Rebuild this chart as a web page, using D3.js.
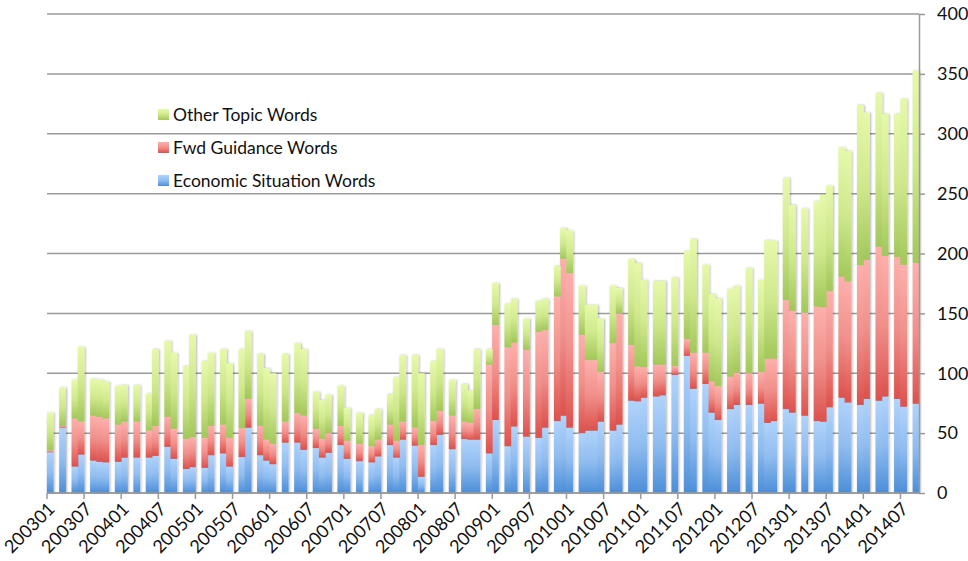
<!DOCTYPE html>
<html>
<head>
<meta charset="utf-8">
<script src="https://cdn.jsdelivr.net/npm/d3@7/dist/d3.min.js"></script>
<style>
  body { margin: 0; background: #fff; }
  text { font-family: Lato, "Open Sans", sans-serif; fill: #111; }
</style>
</head>
<body>
<svg width="968" height="561"></svg>
<script>
// FOMC statement word counts by meeting month
var months = ["200301","200303","200305","200306","200308","200309","200310","200312",
  "200401","200403","200405","200406","200408","200409","200411","200412",
  "200502","200503","200505","200506","200508","200509","200511","200512",
  "200601","200603","200605","200606","200608","200609","200610","200612",
  "200701","200703","200705","200706","200708","200709","200710","200712",
  "200801","200803","200804","200806","200808","200809","200810","200812",
  "200901","200903","200904","200906","200908","200909","200911","200912",
  "201001","201003","201004","201005","201006","201008","201009","201011","201012",
  "201101","201103","201104","201106","201108","201109","201111","201112",
  "201201","201203","201204","201206","201208","201209","201210","201212",
  "201301","201303","201305","201306","201307","201309","201310","201312",
  "201401","201403","201404","201406","201407","201409"];

var econ = [34,54.5,22,32,27,26,25.5,26,
  29.5,29.5,29.5,31,38.5,28.5,20,21.5,
  21,31.5,33,22,30,54.5,31.5,27,
  24,42,42,36,37.5,29.5,33.5,40,
  28.5,26.5,25.5,30.5,40,29.5,44.5,39.5,
  13.5,40,48.5,36.5,45,44.5,44.5,33,
  61,39,55.5,47,46,54.5,60,64.5,
  54.5,50,52,52,59.5,52,57,77,76.5,
  79.5,80.5,81.5,98.5,114.5,87,91,67,
  61,70,73.5,73.5,74.5,58.5,60,70,
  67,64.5,60,59.5,71.5,79.5,75.5,73.5,
  78.5,77,80.5,78.5,72,74.5];

var fwd = [1.5,1.5,40,27.5,37.5,37.5,36.5,31,
  30,30,22.5,25,25,25,25,25,
  25,24.5,24,24,24,24,24.5,17.5,
  17,17.5,24.5,28.5,16,15.5,16.5,16,
  15,14.5,13.5,14,17,14,15,15,
  26.5,20,20,28,14.5,14,25.5,74,
  79,82.5,70,72.5,88.5,81.5,104,131,
  129,82,59,59,41.5,73,93,46.5,29,
  25.5,26.5,25.5,7.5,14,30,26,26,
  28,27,27,26.5,26.5,53.5,52,91,
  85,86,95.5,95.5,97,101,101,116.5,
  116,128.5,117.5,118.5,118.5,117.5];

var other = [31.5,32,32.5,62.5,30.5,31,31,32.5,
  30.5,30.5,31,64,63.5,63.5,61,85.5,
  64,61,63,62,66,56.5,60,59.5,
  59,56.5,58.5,55.5,31,32.5,32,33.5,
  27.5,26,26,25.5,25.5,53,55.5,60.5,
  60,50,51.5,30,31.5,27,50,13,
  35,36.5,36.5,26,26,26,25.5,25.5,
  35.5,41,46,46,44.5,48,21,71.5,86.5,
  73,70,70,74,73.5,95,73.5,73,
  73.5,73.5,72.5,88,77,99,98.5,102,
  88.5,87,88,94,88,108,109,134,
  123,128.5,118.5,119.5,138.5,160.5];

var seriesNames = ["Economic Situation Words", "Fwd Guidance Words", "Other Topic Words"];
var yTicks = [0, 50, 100, 150, 200, 250, 300, 350, 400];
var tickLabels = ["200301","200307","200401","200407","200501","200507","200601","200607",
  "200701","200707","200801","200807","200901","200907","201001","201007",
  "201101","201107","201201","201207","201301","201307","201401","201407"];

var svg = d3.select("svg");
var plotLeft = 47, plotRight = 919, plotTop = 14, plotBottom = 493;

// every month on the date axis, Jan 2003 .. Sep 2014
var fmt = d3.timeFormat("%Y%m");
var allMonths = d3.timeMonth.range(new Date(2003, 0, 1), new Date(2014, 9, 1)).map(fmt);

var x = d3.scaleBand().domain(allMonths).range([plotLeft, plotRight]).padding(0);
var y = d3.scaleLinear().domain([0, 400]).range([plotBottom, plotTop]);

// gradients
var defs = svg.append("defs");
var grads = [
  {id: "gBlue", c: ["#b0d3fb", "#8fbcef", "#4b8ed8"]},
  {id: "gRed", c: ["#fdb0ac", "#f08f8a", "#dc514c"]},
  {id: "gGreen", c: ["#e6f9ab", "#cfe88c", "#a2c75a"]}
];
grads.forEach(function(g) {
  var lg = defs.append("linearGradient").attr("id", g.id)
    .attr("x1", 0).attr("y1", 0).attr("x2", 0).attr("y2", 1);
  lg.append("stop").attr("offset", "0%").attr("stop-color", g.c[0]);
  lg.append("stop").attr("offset", "50%").attr("stop-color", g.c[1]);
  lg.append("stop").attr("offset", "100%").attr("stop-color", g.c[2]);
});
var f = defs.append("filter").attr("id", "shadow")
  .attr("x", "-5%").attr("y", "-5%").attr("width", "110%").attr("height", "110%");
f.append("feDropShadow").attr("dx", 1).attr("dy", 0).attr("stdDeviation", 1.2)
  .attr("flood-color", "#000").attr("flood-opacity", 0.3);

// grid
svg.append("g").selectAll("line").data(yTicks).enter().append("line")
  .attr("x1", plotLeft).attr("x2", plotRight)
  .attr("y1", function(d) { return y(d); }).attr("y2", function(d) { return y(d); })
  .attr("stroke", "#9a9a9a").attr("stroke-width", 1.5);

// stacked bars
var rows = months.map(function(m, i) {
  return {month: m, econ: econ[i], fwd: fwd[i], other: other[i]};
});
var stack = d3.stack().keys(["econ", "fwd", "other"]);
var layers = stack(rows);
var fills = ["url(#gBlue)", "url(#gRed)", "url(#gGreen)"];

var bars = svg.append("g").attr("filter", "url(#shadow)");
layers.forEach(function(layer, k) {
  bars.append("g").selectAll("rect").data(layer).enter().append("rect")
    .attr("x", function(d) { return x(d.data.month) - 0.2; })
    .attr("width", x.bandwidth() + 0.6)
    .attr("y", function(d) { return y(d[1]); })
    .attr("height", function(d) { return y(d[0]) - y(d[1]); })
    .attr("fill", fills[k]);
});

// x axis
var xAxis = svg.append("g").attr("transform", "translate(0," + plotBottom + ")")
  .call(d3.axisBottom(x).tickValues(tickLabels).tickSize(6).tickSizeOuter(0));
xAxis.select(".domain").attr("stroke", "#9a9a9a").attr("stroke-width", 1.5)
  .attr("d", "M" + plotLeft + ",0H" + plotRight);
xAxis.selectAll(".tick").attr("transform", function(d) { return "translate(" + x(d) + ",0)"; });
xAxis.selectAll(".tick line").attr("stroke", "#9a9a9a").attr("stroke-width", 1.5);
xAxis.selectAll(".tick text")
  .attr("font-size", 18).attr("fill", "#111")
  .attr("text-anchor", "end")
  .attr("x", 0).attr("y", 0).attr("dy", 0)
  .attr("transform", "translate(9,17) rotate(-45)");

// right y axis
var yAxis = svg.append("g").attr("transform", "translate(" + plotRight + ",0)")
  .call(d3.axisRight(y).tickValues(yTicks).tickSize(6).tickPadding(12).tickSizeOuter(0));
yAxis.select(".domain").attr("stroke", "#9a9a9a").attr("stroke-width", 1.5);
yAxis.selectAll(".tick line").attr("stroke", "#9a9a9a").attr("stroke-width", 1.5);
yAxis.selectAll(".tick text").attr("font-size", 18).attr("fill", "#111");

// legend
var legend = svg.append("g").attr("transform", "translate(158,109)");
var legendItems = [seriesNames[2], seriesNames[1], seriesNames[0]];
var legendFills = [fills[2], fills[1], fills[0]];
legendItems.forEach(function(name, i) {
  var row = legend.append("g").attr("transform", "translate(0," + (i * 33) + ")");
  row.append("rect").attr("width", 11).attr("height", 11).attr("fill", legendFills[i]);
  row.append("text").attr("x", 15).attr("y", 12).attr("font-size", 17.5).text(name);
});
</script>
</body>
</html>
